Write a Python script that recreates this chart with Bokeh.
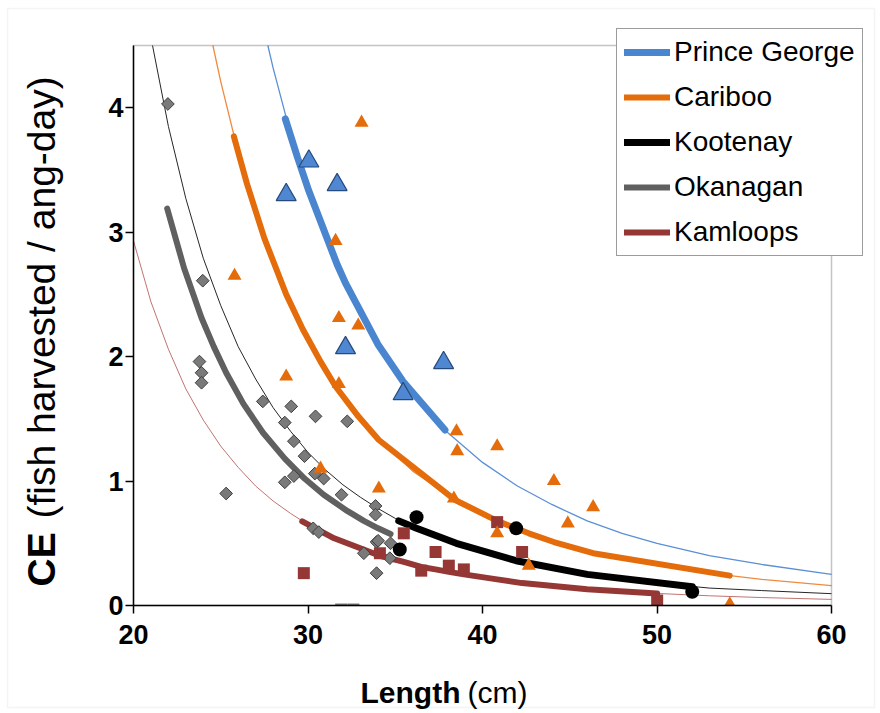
import math
from bokeh.plotting import figure
from bokeh.models import Legend, LegendItem, Label, FixedTicker, BoxAnnotation, Range1d
from bokeh.embed import file_html
from bokeh.resources import INLINE

# ---------------- data ----------------
# Prince George
pg_len = [28.75, 30.05, 31.67, 32.15, 35.45, 37.77]
pg_ce = [3.30, 3.57, 3.38, 2.07, 1.70, 1.95]
pg_fit_len = [28.70, 29.40, 30.05, 31.67, 32.15, 34.00, 35.45, 37.85]
pg_fit_ce = [3.91, 3.60, 3.33, 2.74, 2.59, 2.10, 1.80, 1.41]
pg_trend_len = [27.7, 28, 29, 30, 31, 32, 33, 34, 35, 36, 38, 40, 42, 44, 46, 48, 50, 53, 56, 60]
pg_trend_ce = [4.50, 4.32, 3.79, 3.34, 2.96, 2.63, 2.35, 2.10, 1.89, 1.70, 1.39, 1.15, 0.96, 0.81,
               0.68, 0.58, 0.50, 0.40, 0.33, 0.25]

# Cariboo
ca_len = [25.79, 28.75, 30.72, 31.58, 31.77, 31.77, 32.88, 33.07, 34.06, 38.36, 38.51, 38.55,
          40.84, 40.84, 42.65, 44.09, 44.89, 46.34, 54.17]
ca_ce = [2.65, 1.84, 1.10, 2.93, 2.31, 1.78, 2.25, 3.88, 0.94, 0.86, 1.40, 1.24,
         1.28, 0.58, 0.32, 1.00, 0.66, 0.79, 0.01]
ca_fit_len = [25.75, 26.5, 27.5, 28.75, 29.7, 30.72, 31.58, 32.88, 34.06, 38.40, 40.84, 42.65,
              44.09, 46.34, 54.17]
ca_fit_ce = [3.77, 3.39, 2.95, 2.50, 2.22, 1.96, 1.76, 1.52, 1.33, 0.85, 0.68, 0.58,
             0.51, 0.42, 0.24]
ca_trend_len = [24.55, 25, 26, 27, 28, 29, 30, 31, 32, 33, 34, 36, 38, 40, 42, 44, 46, 48, 50, 53, 56, 60]
ca_trend_ce = [4.50, 4.21, 3.64, 3.16, 2.76, 2.42, 2.14, 1.89, 1.68, 1.50, 1.34, 1.08, 0.89, 0.73,
               0.61, 0.51, 0.44, 0.37, 0.32, 0.26, 0.21, 0.16]

# Kootenay
ko_len = [35.26, 36.22, 41.93, 52.02]
ko_ce = [0.45, 0.71, 0.62, 0.11]
ko_fit_len = [35.20, 36.22, 38.5, 41.93, 46.0, 52.02]
ko_fit_ce = [0.68, 0.62, 0.50, 0.36, 0.25, 0.15]
ko_trend_len = [21.09, 22, 23, 24, 25, 26, 27, 28, 29, 30, 31, 32, 33, 34, 35, 36, 38, 40, 42, 44,
                46, 48, 50, 53, 56, 60]
ko_trend_ce = [4.50, 3.85, 3.27, 2.79, 2.41, 2.08, 1.82, 1.59, 1.40, 1.23, 1.09, 0.97, 0.87, 0.78,
               0.70, 0.63, 0.52, 0.43, 0.36, 0.30, 0.25, 0.21, 0.18, 0.14, 0.12, 0.095]

# Okanagan
ok_len = [21.97, 23.97, 23.78, 23.90, 23.90, 25.31, 27.41, 29.04, 30.43, 32.25, 28.67, 29.19,
          29.80, 30.39, 30.90, 28.67, 29.19, 31.92, 33.87, 33.87, 30.30, 30.62, 33.20, 33.93,
          33.93, 34.02, 34.73, 34.69]
ok_ce = [4.03, 2.61, 1.96, 1.87, 1.79, 0.90, 1.64, 1.60, 1.52, 1.48, 1.47, 1.32,
         1.20, 1.06, 1.02, 0.99, 1.04, 0.89, 0.80, 0.73, 0.62, 0.59, 0.42, 0.51,
         0.26, 0.52, 0.50, 0.38]
ok_zero_len = [31.9, 32.6]
ok_zero_ce = [0.0, 0.0]
ok_fit_len = [21.93, 22.9, 23.90, 24.6, 25.31, 26.3, 27.41, 28.67, 29.80, 30.90, 32.25, 33.20,
              34.02, 34.73]
ok_fit_ce = [3.19, 2.71, 2.31, 2.08, 1.87, 1.62, 1.39, 1.18, 1.02, 0.89, 0.76, 0.68,
             0.62, 0.575]

# Kamloops
km_len = [29.76, 35.49, 34.12, 37.31, 36.49, 38.07, 38.93, 40.84, 42.27, 50.01]
km_ce = [0.26, 0.58, 0.42, 0.43, 0.28, 0.32, 0.29, 0.67, 0.43, 0.04]
km_fit_len = [29.67, 31.5, 34.12, 35.49, 36.49, 37.31, 38.07, 38.93, 40.84, 42.27, 46.0, 50.01]
km_fit_ce = [0.676, 0.54, 0.40, 0.35, 0.31, 0.29, 0.27, 0.25, 0.21, 0.18, 0.13, 0.097]
km_trend_len = [20, 21, 22, 23, 24, 25, 26, 27, 28, 29, 30, 32, 34, 36, 38, 40, 42, 44, 46, 48,
                50, 53, 56, 60]
km_trend_ce = [2.93, 2.44, 2.06, 1.74, 1.49, 1.28, 1.11, 0.96, 0.84, 0.74, 0.65, 0.51, 0.41, 0.33,
               0.27, 0.22, 0.19, 0.16, 0.13, 0.11, 0.097, 0.078, 0.064, 0.049]

x_ticks = [20, 30, 40, 50, 60]
y_ticks = [0, 1, 2, 3, 4]
x_limits = (20, 60)
y_limits = (0, 4.5)
region_names = ["Prince George", "Cariboo", "Kootenay", "Okanagan", "Kamloops"]

# ---------------- layout / styling ----------------
W, H = 880, 713
FRAME_L, FRAME_R, FRAME_T, FRAME_B = 133, 831, 45, 605   # pixel position of the plot box
xs = (FRAME_R - FRAME_L) / (x_limits[1] - x_limits[0])
ys = (FRAME_B - FRAME_T) / (y_limits[1] - y_limits[0])
x_range = Range1d(x_limits[0] - FRAME_L / xs, x_limits[1] + (W - FRAME_R) / xs)
y_range = Range1d(y_limits[0] - (H - FRAME_B) / ys, y_limits[1] + FRAME_T / ys)

BLUE = "#4a86d0"
ORANGE = "#e46c0a"
BLACK = "#000000"
GRAY = "#606060"
RED = "#953735"
FONT = "Liberation Sans"

p = figure(width=W, height=H, x_range=x_range, y_range=y_range,
           output_backend="svg", toolbar_location=None,
           min_border_left=0, min_border_right=0, min_border_top=0, min_border_bottom=0)
p.background_fill_color = "white"
p.border_fill_color = "white"
p.xgrid.visible = False
p.ygrid.visible = False
p.outline_line_color = None

for ax in (p.xaxis[0], p.yaxis[0]):
    ax.axis_line_color = "black"
    ax.axis_line_width = 1.5
    ax.major_tick_line_color = "black"
    ax.major_tick_line_width = 1.5
    ax.major_tick_in = 0
    ax.major_tick_out = 8
    ax.minor_tick_line_color = None
    ax.major_label_text_font = FONT
    ax.major_label_text_font_style = "bold"
    ax.major_label_text_font_size = "27px"
    ax.major_label_text_color = "black"
    ax.level = "overlay"
p.xaxis[0].ticker = FixedTicker(ticks=x_ticks)
p.yaxis[0].ticker = FixedTicker(ticks=y_ticks)
p.xaxis[0].fixed_location = y_limits[0]
p.yaxis[0].fixed_location = x_limits[0]
p.xaxis[0].bounds = x_limits
p.yaxis[0].bounds = y_limits
p.xaxis[0].major_label_standoff = 11
p.yaxis[0].major_label_standoff = 2

# outer light border of the chart
p.add_layout(BoxAnnotation(left=7, right=W - 6, bottom=6, top=H - 8,
                           left_units="screen", right_units="screen",
                           bottom_units="screen", top_units="screen",
                           fill_color=None, line_color="#d9d9d9", line_width=1.5,
                           level="underlay"))

# thin trend lines
p.line(pg_trend_len, pg_trend_ce, line_color="#5b8fd6", line_width=1.3)
p.line(ca_trend_len, ca_trend_ce, line_color="#f08a40", line_width=1.3)
p.line(ko_trend_len, ko_trend_ce, line_color="#262626", line_width=1.0)
p.line(km_trend_len, km_trend_ce, line_color="#bf7472", line_width=1.0)

# thick fitted lines
r_pg = p.line(pg_fit_len, pg_fit_ce, line_color=BLUE, line_width=7, line_cap="round")
r_ca = p.line(ca_fit_len, ca_fit_ce, line_color=ORANGE, line_width=6, line_cap="round")
r_ok = p.line(ok_fit_len, ok_fit_ce, line_color=GRAY, line_width=6, line_cap="round")
r_km = p.line(km_fit_len, km_fit_ce, line_color=RED, line_width=6, line_cap="round")
r_ko = p.line(ko_fit_len, ko_fit_ce, line_color=BLACK, line_width=7, line_cap="round")

# markers
p.scatter(ok_len, ok_ce, marker="square", angle=math.pi / 4, size=9,
          fill_color="#7a7a7a", line_color="#3f3f3f", line_width=1)
p.scatter(ok_zero_len, ok_zero_ce, marker="dash", size=12, line_color="#7a7a7a", line_width=4)
p.scatter(km_len, km_ce, marker="square", size=12, fill_color=RED, line_color=None)
p.scatter(ca_len, ca_ce, marker="triangle", size=14, fill_color=ORANGE, line_color=None)
p.scatter(ko_len, ko_ce, marker="circle", size=14, fill_color=BLACK, line_color=None)
p.scatter(pg_len, pg_ce, marker="triangle", size=20, fill_color="#4f87d2",
          line_color="#274a7c", line_width=1.2)

# white strip below the x axis hides marker parts that fall under the axis
p.add_layout(BoxAnnotation(left=x_limits[0], right=x_limits[1], top=y_limits[0], bottom=-0.12,
                           fill_color="white", fill_alpha=1.0, line_color=None))
# top and right sides of the plot box
p.add_layout(BoxAnnotation(left=x_limits[0], right=x_limits[1], bottom=y_limits[0], top=y_limits[1],
                           fill_color=None, line_color="#3a3a3a", line_width=1.5))

# legend
legend = Legend(items=[LegendItem(label=region_names[0], renderers=[r_pg]),
                       LegendItem(label=region_names[1], renderers=[r_ca]),
                       LegendItem(label=region_names[2], renderers=[r_ko]),
                       LegendItem(label=region_names[3], renderers=[r_ok]),
                       LegendItem(label=region_names[4], renderers=[r_km])],
                location=(616, H - 256))
legend.label_text_font = FONT
legend.label_text_font_size = "28px"
legend.label_text_color = "black"
legend.glyph_width = 46
legend.glyph_height = 28
legend.label_height = 28
legend.label_standoff = 4
legend.spacing = 13
legend.padding = 7
legend.margin = 0
legend.border_line_color = "#3a3a3a"
legend.border_line_width = 1.2
legend.background_fill_alpha = 1.0
p.add_layout(legend)

# axis titles (mixed bold / regular)
p.add_layout(Label(x=460, y=H - 692, x_units="screen", y_units="screen", text="Length",
                   text_font=FONT, text_font_style="bold", text_font_size="30px",
                   text_color="black", text_align="right", text_baseline="middle"))
p.add_layout(Label(x=467, y=H - 692, x_units="screen", y_units="screen", text="(cm)",
                   text_font=FONT, text_font_size="30px", text_color="black",
                   text_align="left", text_baseline="middle"))
p.add_layout(Label(x=41, y=H - 586, x_units="screen", y_units="screen", text="CE",
                   text_font=FONT, text_font_style="bold", text_font_size="39px",
                   text_color="black", text_align="left", text_baseline="middle",
                   angle=math.pi / 2))
p.add_layout(Label(x=41, y=H - 518, x_units="screen", y_units="screen",
                   text="(fish harvested / ang-day)",
                   text_font=FONT, text_font_size="39px", text_color="black",
                   text_align="left", text_baseline="middle", angle=math.pi / 2))

open("out.html", "w").write(file_html(p, INLINE))
